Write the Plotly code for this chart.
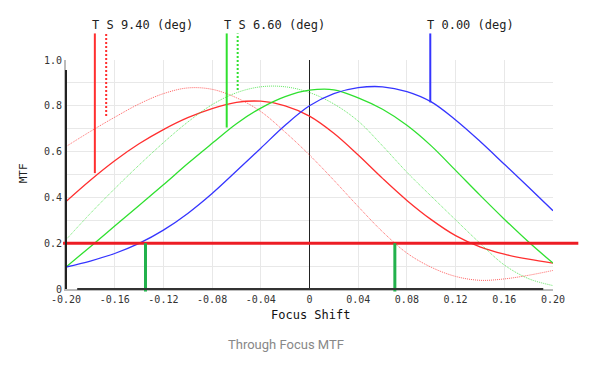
import plotly.graph_objects as go

# ---- data ----
focus_shift = [-0.20, -0.18, -0.16, -0.14, -0.12, -0.10, -0.08, -0.06, -0.04, -0.02,
               0.00, 0.02, 0.04, 0.06, 0.08, 0.10, 0.12, 0.14, 0.16, 0.18, 0.20]

t_000 = [0.096, 0.122, 0.155, 0.199, 0.257, 0.330, 0.417, 0.515, 0.615, 0.715,
         0.800, 0.853, 0.879, 0.883, 0.862, 0.817, 0.738, 0.645, 0.545, 0.444, 0.342]
t_660 = [0.096, 0.185, 0.275, 0.365, 0.455, 0.548, 0.636, 0.722, 0.790, 0.840,
         0.868, 0.870, 0.835, 0.785, 0.715, 0.625, 0.518, 0.410, 0.305, 0.205, 0.113]
s_660 = [0.215, 0.330, 0.438, 0.541, 0.639, 0.729, 0.805, 0.857, 0.883, 0.883,
         0.858, 0.808, 0.733, 0.625, 0.510, 0.405, 0.302, 0.200, 0.105, 0.045, 0.015]
t_940 = [0.382, 0.475, 0.560, 0.634, 0.696, 0.748, 0.788, 0.815, 0.820, 0.800,
         0.755, 0.680, 0.585, 0.483, 0.387, 0.303, 0.233, 0.184, 0.152, 0.130, 0.113]
s_940 = [0.622, 0.688, 0.750, 0.808, 0.853, 0.878, 0.872, 0.835, 0.775, 0.685,
         0.585, 0.475, 0.360, 0.250, 0.157, 0.095, 0.055, 0.038, 0.044, 0.060, 0.081]

# label markers: (x position, MTF where the marker ends)
marker_x = [-0.1763, -0.167, -0.068, -0.059, 0.0992]
marker_y = [0.506, 0.755, 0.705, 0.869, 0.815]
label_text = ["T S 9.40 (deg)", "T S 6.60 (deg)", "T 0.00 (deg)"]
label_x = [-0.1763, -0.068, 0.0992]

threshold = 0.2
cross_x = [-0.1347, 0.0701]

x_ticks = [-0.20, -0.16, -0.12, -0.08, -0.04, 0.0, 0.04, 0.08, 0.12, 0.16, 0.20]
x_ticktext = ["-0.20", "-0.16", "-0.12", "-0.08", "-0.04", "0", "0.04", "0.08", "0.12", "0.16", "0.20"]
y_ticks = [0.0, 0.1, 0.2, 0.3, 0.4, 0.5, 0.6, 0.7, 0.8, 0.9, 1.0]
y_ticktext = ["0", "", "0.2", "", "0.4", "", "0.6", "", "0.8", "", "1.0"]

XR = [-0.20, 0.20]
YR = [0.0, 1.0]

RED = "#ff2f2f"
GREEN = "#2fe02f"
BLUE = "#3535ff"
MONO = "DejaVu Sans Mono"

fig = go.Figure()

def add(y, color, dotted):
    fig.add_trace(go.Scatter(
        x=focus_shift, y=y, mode="lines", line_shape="spline",
        line=dict(color=color, width=1 if dotted else 1.3,
                  dash="1px,1px" if dotted else "solid"),
        opacity=0.75 if dotted else 1.0,
        showlegend=False, hoverinfo="skip"))

add(s_940, RED, True)
add(t_940, RED, False)
add(s_660, GREEN, True)
add(t_660, GREEN, False)
add(t_000, BLUE, False)

shapes = []
# label marker lines (extend above the plot)
mcolors = [RED, RED, GREEN, GREEN, BLUE]
mdots = [False, True, False, True, False]
for mx, my, c, d in zip(marker_x, marker_y, mcolors, mdots):
    shapes.append(dict(type="line", xref="x", yref="paper", x0=mx, x1=mx, y0=my, y1=1.116,
                       line=dict(color=c, width=2, dash="2px,2px" if d else "solid")))
# threshold line
shapes.append(dict(type="line", xref="paper", yref="y", x0=-0.006, x1=1.052,
                   y0=threshold, y1=threshold, line=dict(color="#ed1c24", width=3)))
# crossing bars
for cx in cross_x:
    shapes.append(dict(type="line", xref="x", yref="paper", x0=cx, x1=cx,
                       y0=-0.011, y1=threshold, line=dict(color="#22b14c", width=3)))
# dark axis overlays (slightly shorter than the grey axis lines)
shapes.append(dict(type="line", xref="paper", yref="paper", x0=0, x1=0, y0=0, y1=0.956,
                   line=dict(color="#222", width=2)))
shapes.append(dict(type="line", xref="x", yref="paper", x0=-0.1908, x1=0.192, y0=0, y1=0,
                   line=dict(color="#333", width=2)))
# tiny green corner mark
shapes.append(dict(type="rect", xref="paper", yref="paper", x0=-0.1355, x1=-0.1294,
                   y0=1.2486, y1=1.262, line=dict(width=0), fillcolor="#22b14c"))

annotations = []
for t, lx in zip(label_text, label_x):
    annotations.append(dict(text=t, xref="x", yref="paper", x=lx, y=1.153,
                            xanchor="left", yanchor="middle", xshift=-5, showarrow=False,
                            font=dict(family=MONO, size=12, color="#222")))
annotations.append(dict(text="MTF", xref="paper", yref="paper", x=-0.0883, y=0.505,
                        textangle=-90, showarrow=False, xanchor="center", yanchor="middle",
                        font=dict(family=MONO, size=11, color="#222")))
annotations.append(dict(text="Focus Shift", xref="paper", yref="paper", x=0.503, y=-0.112,
                        showarrow=False, xanchor="center", yanchor="middle",
                        font=dict(family=MONO, size=12, color="#111")))
annotations.append(dict(text="Through Focus MTF", xref="paper", yref="paper", x=0.452, y=-0.243,
                        showarrow=False, xanchor="center", yanchor="middle",
                        font=dict(family="Roboto", size=13, color="#888")))

# the page body adds an 8px offset, so the figure is 8px smaller with 8px smaller left/top margins
fig.update_layout(
    width=592, height=361,
    margin=dict(l=58, r=47, t=52, b=80),
    paper_bgcolor="white", plot_bgcolor="white",
    shapes=shapes, annotations=annotations,
    xaxis=dict(range=XR, tickmode="array", tickvals=x_ticks, ticktext=x_ticktext,
               showgrid=True, gridcolor="#e8e8e8", gridwidth=1,
               zeroline=True, zerolinecolor="#222", zerolinewidth=1,
               showline=True, linecolor="#bbb", linewidth=2, ticks="",
               tickfont=dict(family=MONO, size=10, color="#333")),
    yaxis=dict(range=YR, tickmode="array", tickvals=y_ticks, ticktext=y_ticktext,
               showgrid=True, gridcolor="#e8e8e8", gridwidth=1, zeroline=False,
               showline=True, linecolor="#bbb", linewidth=2, ticks="",
               tickfont=dict(family=MONO, size=10, color="#333")),
)

fig.write_html("out.html")
